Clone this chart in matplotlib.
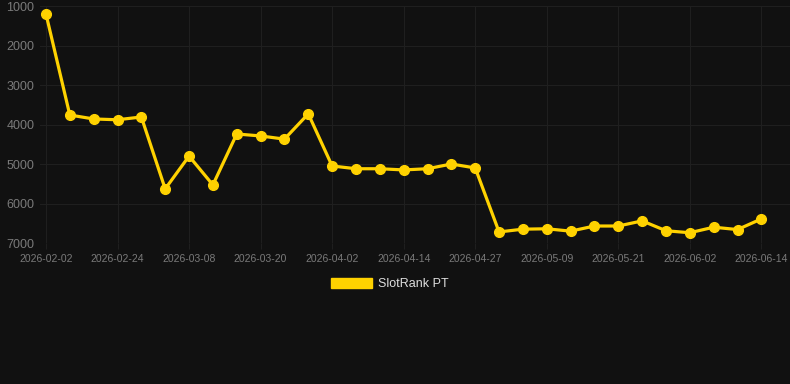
import matplotlib
matplotlib.use("Agg")
import matplotlib.pyplot as plt

plt.rcParams['font.family'] = ['Liberation Sans', 'DejaVu Sans']

# rank values, one per observation (lower rank number = better, axis inverted)
ranks = [1200, 3760, 3860, 3880, 3810, 5630, 4800, 5530, 4240, 4290, 4370,
         3730, 5050, 5120, 5120, 5150, 5120, 5000, 5100, 6720, 6650, 6640,
         6700, 6570, 6570, 6440, 6690, 6740, 6600, 6660, 6390]
tick_labels = ['2026-02-02', '2026-02-24', '2026-03-08', '2026-03-20',
               '2026-04-02', '2026-04-14', '2026-04-27', '2026-05-09',
               '2026-05-21', '2026-06-02', '2026-06-14']
y_ticks = [1000, 2000, 3000, 4000, 5000, 6000, 7000]
series_name = 'SlotRank PT'

bg = '#111111'
gold = '#FFD200'
grid_c = '#1f1f1f'
text_c = '#7a7a7a'

fig = plt.figure(figsize=(7.9, 3.84), dpi=100, facecolor=bg)
ax = fig.add_axes([40 / 790, 1 - 243 / 384, 750 / 790, 237 / 384])
ax.set_facecolor(bg)

xs = list(range(len(ranks)))
ax.plot(xs, ranks, color=gold, lw=2.3, marker='o', ms=7,
        markerfacecolor=gold, markeredgecolor=gold, label=series_name,
        zorder=3)

ax.set_ylim(7000, 1000)
ax.set_yticks(y_ticks)
ax.set_xlim(-0.25, 31.2)
ax.set_xticks(xs[::3])
ax.set_xticklabels(tick_labels)

ax.grid(True, color=grid_c, lw=0.8)
for s in ax.spines.values():
    s.set_visible(False)
ax.tick_params(axis='x', colors=grid_c, labelcolor=text_c, labelsize=7.5,
               length=4, width=0.8, pad=4)
ax.tick_params(axis='y', colors=grid_c, labelcolor=text_c, labelsize=9,
               length=0, pad=4)

h = [plt.Rectangle((0, 0), 1, 1, color=gold)]
leg = fig.legend(h, [series_name], loc='center', bbox_to_anchor=(390 / 790, 1 - 284 / 384),
                 frameon=False, handlelength=3.3, handleheight=0.9,
                 handletextpad=0.5, fontsize=9)
for t in leg.get_texts():
    t.set_color('#dddddd')

fig.savefig('out.png', dpi=100, facecolor=bg)
